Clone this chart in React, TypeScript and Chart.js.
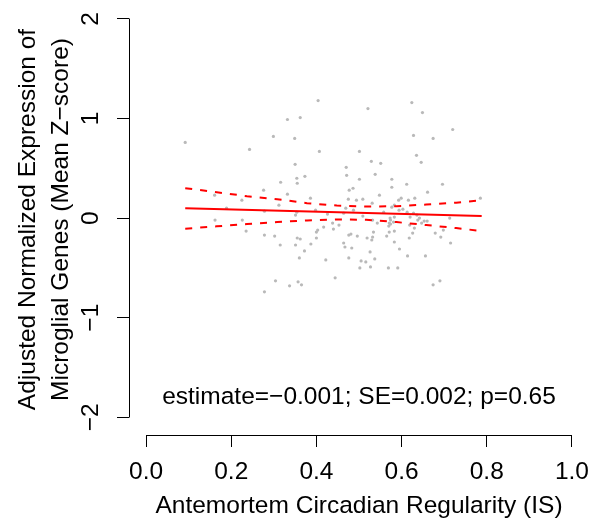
import React, { useEffect, useRef } from "react";
import { Chart, registerables } from "chart.js";

Chart.register(...registerables);

// ---- data ----
const xTicks = [0, 0.2, 0.4, 0.6, 0.8, 1.0];
const yTicks = [-2, -1, 0, 1, 2];

const pointX = [
  0.092, 0.243, 0.161, 0.225, 0.276,
  0.404, 0.521, 0.332, 0.362, 0.299, 0.349, 0.407, 0.501, 0.529, 0.551, 0.35, 0.47, 0.471, 0.538, 0.354, 0.373,
  0.501, 0.316, 0.355, 0.477, 0.486, 0.332, 0.548, 0.386, 0.475, 0.494, 0.509,
  0.624, 0.649, 0.72, 0.628, 0.674, 0.635, 0.646, 0.577, 0.612, 0.696, 0.577, 0.661, 0.599, 0.593, 0.631, 0.616, 0.785,
  0.189, 0.162, 0.226, 0.235, 0.278, 0.278, 0.278,
  0.312, 0.398, 0.469, 0.487, 0.531, 0.354, 0.351, 0.426, 0.509, 0.532, 0.558, 0.438, 0.453, 0.417, 0.403, 0.44,
  0.4, 0.534, 0.302, 0.355, 0.362, 0.4, 0.476, 0.481, 0.496, 0.519, 0.532, 0.53, 0.315, 0.351, 0.387, 0.464,
  0.467, 0.483, 0.372, 0.526, 0.36, 0.476, 0.422, 0.505, 0.516, 0.537, 0.502, 0.527, 0.304, 0.357, 0.365, 0.337,
  0.444, 0.464, 0.543, 0.57, 0.581,
  0.577, 0.583, 0.594, 0.603, 0.613, 0.628, 0.636, 0.583, 0.573, 0.574, 0.62, 0.638, 0.642, 0.653, 0.66, 0.647,
  0.713, 0.571, 0.574, 0.619, 0.63, 0.698, 0.571, 0.583, 0.565, 0.626, 0.679, 0.618, 0.692, 0.583, 0.715, 0.595,
  0.614, 0.656, 0.569, 0.591, 0.674, 0.69,
];
const pointY = [
  0.76, 0.69, 0.23, 0.18, 0.28,
  1.18, 1.1, 0.99, 1.01, 0.82, 0.8, 0.67, 0.67, 0.57, 0.55, 0.54, 0.51, 0.43, 0.44, 0.4, 0.42,
  0.39, 0.36, 0.35, 0.28, 0.3, 0.24, 0.23, 0.2, 0.19, 0.18, 0.19,
  1.16, 1.06, 0.89, 0.83, 0.8, 0.63, 0.56, 0.39, 0.34, 0.34, 0.31, 0.26, 0.2, 0.18, 0.2, 0.18, 0.2,
  0.1, -0.02, -0.02, -0.13, -0.17, -0.74, 0.07,
  0.13, 0.08, 0.1, 0.08, 0.15, 0.06, 0.03, 0.04, 0.02, -0.02, 0.06, -0.05, -0.07, -0.09, -0.12, -0.11,
  -0.14, -0.14, -0.18, -0.2, -0.21, -0.2, -0.17, -0.16, -0.18, -0.2, -0.19, -0.22, -0.27, -0.27, -0.26, -0.25,
  -0.29, -0.3, -0.33, -0.34, -0.4, -0.4, -0.42, -0.43, -0.44, -0.41, -0.5, -0.49, -0.63, -0.64, -0.67, -0.68,
  -0.6, 0.05, -0.05, -0.08, -0.04,
  0.11, 0.13, 0.08, 0.09, 0.06, 0.05, 0.03, 0.01, 0.0, -0.02, 0.01, -0.02, 0.0, -0.03, -0.03, -0.05,
  0.0, -0.05, -0.06, -0.07, -0.1, -0.12, -0.14, -0.13, -0.18, -0.15, -0.15, -0.2, -0.19, -0.24, -0.25, -0.31,
  -0.38, -0.38, -0.5, -0.5, -0.67, -0.63,
];

const fitX = [0.092, 0.788];
const fitY = [0.1, 0.02];

const bandX = [0.092, 0.166, 0.237, 0.308, 0.378, 0.448, 0.517, 0.588, 0.658, 0.728, 0.788];
const bandUpper = [0.3, 0.26, 0.22, 0.19, 0.15, 0.126, 0.116, 0.12, 0.136, 0.155, 0.18];
const bandLower = [-0.106, -0.083, -0.06, -0.04, -0.023, -0.013, -0.017, -0.04, -0.07, -0.1, -0.13];

const xTitle = "Antemortem Circadian Regularity (IS)";
const yTitle = ["Adjusted Normalized Expression of", "Microglial Genes (Mean Z\u2212score)"];
const annotationText = "estimate=\u22120.001; SE=0.002; p=0.65";
const annotationPos = [0.5, -1.8];

// ---- styling ----
const FONT = '"Liberation Sans", Arial, Helvetica, sans-serif';
const FS = 24.5;

const minus = (v: number) => (v < 0 ? "\u2212" + Math.abs(v) : String(v));

const align = (px: number, w: number) => Math.round(px - w / 2) + w / 2;

const overlayPlugin = {
  id: "overlay",
  afterDraw(chart: any) {
    const { ctx, scales } = chart;
    const x = scales.x;
    const y = scales.y;
    const ca = chart.chartArea;
    ctx.save();
    ctx.strokeStyle = "#000";
    ctx.lineWidth = 1;
    // x axis line (first to last tick)
    const yb = align(ca.bottom, 1);
    ctx.beginPath();
    ctx.moveTo(align(x.getPixelForValue(xTicks[0]), 1), yb);
    ctx.lineTo(align(x.getPixelForValue(xTicks[xTicks.length - 1]), 1), yb);
    ctx.stroke();
    // y axis line
    const xl = align(ca.left, 1);
    ctx.beginPath();
    ctx.moveTo(xl, align(y.getPixelForValue(yTicks[0]), 1));
    ctx.lineTo(xl, align(y.getPixelForValue(yTicks[yTicks.length - 1]), 1));
    ctx.stroke();
    // annotation
    ctx.fillStyle = "#000";
    ctx.font = `${FS}px ${FONT}`;
    ctx.textAlign = "center";
    ctx.textBaseline = "middle";
    ctx.fillText(annotationText, x.getPixelForValue(annotationPos[0]), y.getPixelForValue(annotationPos[1]));
    ctx.restore();
  },
};

export default function App() {
  const canvasRef = useRef<HTMLCanvasElement | null>(null);

  useEffect(() => {
    document.body.style.margin = "0";
    const canvas = canvasRef.current;
    if (!canvas) return;

    const points = pointX.map((v, i) => ({ x: v, y: pointY[i] }));
    const fit = fitX.map((v, i) => ({ x: v, y: fitY[i] }));
    const upper = bandX.map((v, i) => ({ x: v, y: bandUpper[i] }));
    const lower = bandX.map((v, i) => ({ x: v, y: bandLower[i] }));

    const gridOpts = {
      drawOnChartArea: false,
      drawTicks: true,
      tickLength: 12,
      color: "#000",
      lineWidth: 1,
    };

    const chart = new Chart(canvas, {
      type: "scatter",
      data: {
        datasets: [
          {
            data: fit,
            showLine: true,
            borderColor: "#ff0000",
            borderWidth: 2,
            pointRadius: 0,
            order: 0,
          },
          {
            data: upper,
            showLine: true,
            borderColor: "#ff0000",
            borderWidth: 2,
            borderDash: [7, 8],
            pointRadius: 0,
            order: 0,
          },
          {
            data: lower,
            showLine: true,
            borderColor: "#ff0000",
            borderWidth: 2,
            borderDash: [7, 8],
            pointRadius: 0,
            order: 0,
          },
          {
            data: points,
            pointRadius: 1.6,
            pointBackgroundColor: "rgb(185,185,185)",
            pointBorderWidth: 0,
            order: 1,
          },
        ],
      } as any,
      options: {
        responsive: false,
        maintainAspectRatio: false,
        animation: false,
        layout: { padding: { left: 0, top: 0, right: 7, bottom: 0 } },
        plugins: {
          legend: { display: false },
          tooltip: { enabled: false },
        },
        scales: {
          x: {
            type: "linear",
            position: "bottom",
            min: -0.04,
            max: 1.04,
            afterBuildTicks: (s: any) => {
              s.ticks = xTicks.map((v) => ({ value: v }));
            },
            afterFit: (s: any) => {
              s.height = 86;
              s.paddingLeft = 0;
              s.paddingRight = 0;
            },
            grid: gridOpts,
            border: { display: false },
            ticks: {
              color: "#000",
              font: { family: FONT, size: FS },
              padding: 11,
              minRotation: 0,
              maxRotation: 0,
              autoSkip: false,
              callback: (v: any) => Number(v).toFixed(1),
            },
            title: {
              display: true,
              text: xTitle,
              color: "#000",
              font: { family: FONT, size: FS },
              padding: { top: 0, bottom: 0 },
            },
          },
          y: {
            type: "linear",
            position: "left",
            min: -2.178,
            max: 2.15,
            afterBuildTicks: (s: any) => {
              s.ticks = yTicks.map((v) => ({ value: v }));
            },
            afterFit: (s: any) => {
              s.width = 129;
              s.paddingTop = 0;
              s.paddingBottom = 0;
            },
            grid: gridOpts,
            border: { display: false },
            ticks: {
              color: "#000",
              font: { family: FONT, size: FS },
              padding: 12,
              minRotation: 90,
              maxRotation: 90,
              crossAlign: "center",
              autoSkip: false,
              callback: (v: any) => minus(Number(v)),
            },
            title: {
              display: true,
              text: yTitle,
              color: "#000",
              font: { family: FONT, size: FS, lineHeight: 1.35 },
              padding: { top: 12, bottom: 0 },
            },
          },
        },
      } as any,
      plugins: [overlayPlugin],
    });

    return () => chart.destroy();
  }, []);

  return (
    <div style={{ position: "absolute", left: 0, top: 0, width: 596, height: 521, background: "#fff" }}>
      <canvas ref={canvasRef} width={596} height={521} style={{ display: "block" }} />
    </div>
  );
}
